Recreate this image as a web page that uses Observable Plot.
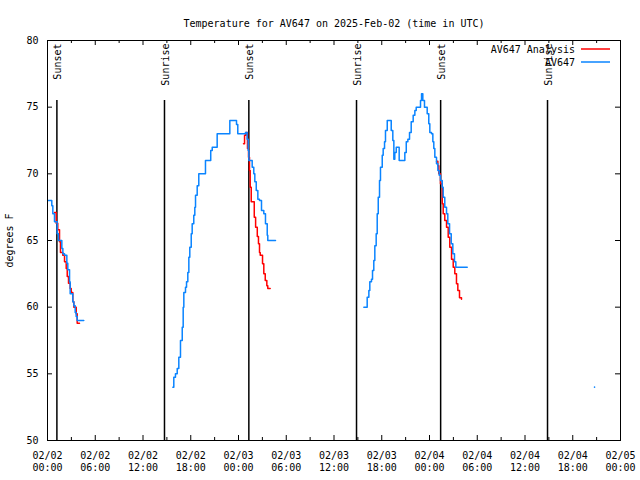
<!DOCTYPE html>
<html><head><meta charset="utf-8">
<script src="https://cdn.jsdelivr.net/npm/d3@7"></script>
<script src="https://cdn.jsdelivr.net/npm/@observablehq/plot@0.6"></script>
<style>html,body{margin:0;padding:0;background:#fff}</style>
</head><body><div id="chart"></div>
<script>
// Time origin: 2025-02-02 00:00 UTC; data times are hours since then
const START = Date.UTC(2025, 1, 2);
const titleText = "Temperature for AV647 on 2025-Feb-02 (time in UTC)";
const yLabel = "degrees F";
const seriesNames = ["AV647 Analysis", "AV647"];
const seriesColors = ["#ff0000", "#0a84ff"];

// AV647 observations [hour, °F], one array per continuous stretch
const obsStretch1 = [[0.1,68.0],[0.54,67.6],[0.67,67.0],[0.88,66.4],[1.21,65.5],[1.38,65.0],[1.80,64.4],[1.93,64.0],[2.14,63.9],[2.43,63.3],[2.55,62.8],[2.77,61.9],[2.85,61.0],[3.18,60.4],[3.31,60.1],[3.48,59.6],[3.60,59.3],[3.73,59.0],[4.56,59.0]];
const obsStretch2 = [[15.75,54.0],[15.87,54.75],[16.08,55.0],[16.30,55.4],[16.50,56.25],[16.71,57.5],[16.93,58.5],[17.05,60.0],[17.13,61.1],[17.34,61.5],[17.47,61.9],[17.63,62.6],[17.76,63.75],[17.88,64.5],[18.06,65.5],[18.18,66.25],[18.38,66.9],[18.51,67.5],[18.60,68.4],[18.81,69.1],[19.01,70.0],[19.85,71.0],[20.51,71.75],[20.70,72.0],[21.32,73.0],[22.91,74.0],[23.75,73.7],[23.91,73.0],[24.88,73.1],[25.09,72.6],[25.22,71.75],[25.30,71.0],[25.72,70.5],[25.92,70.0],[26.05,69.4],[26.23,68.75],[26.43,68.1],[26.64,68.0],[26.89,67.25],[27.18,67.0],[27.39,66.25],[27.61,65.4],[27.68,65.0],[28.65,65.0]];
const obsStretch3 = [[39.75,60.0],[40.17,60.75],[40.38,61.25],[40.50,61.9],[40.71,62.1],[40.84,62.75],[41.00,63.5],[41.13,64.6],[41.30,65.5],[41.43,67.0],[41.56,68.25],[41.72,69.5],[41.84,70.5],[42.06,71.4],[42.18,71.9],[42.35,72.4],[42.47,73.25],[42.69,74.0],[43.19,73.25],[43.39,72.5],[43.52,71.1],[43.64,71.6],[43.82,72.0],[44.19,71.0],[44.90,71.6],[45.08,72.4],[45.28,72.6],[45.49,73.1],[45.70,73.9],[45.95,74.4],[46.16,74.75],[46.33,75.0],[46.87,75.5],[47.00,76.0],[47.16,75.5],[47.37,75.0],[47.71,74.5],[47.91,73.75],[48.04,73.1],[48.25,73.0],[48.42,72.4],[48.54,71.9],[48.67,71.25],[48.88,70.75],[49.05,70.25],[49.22,69.9],[49.38,69.5],[49.60,69.0],[49.72,68.25],[49.92,67.5],[50.14,67.0],[50.30,66.25],[50.52,65.5],[50.73,64.75],[50.93,64.0],[51.14,63.4],[51.31,63.0],[52.74,63.0]];
const obsIsolated = [[68.74,54.0]];

// AV647 Analysis [hour, °F]
const anaStretch1 = [[0.88,67.1],[1.09,66.3],[1.29,65.8],[1.51,64.9],[1.63,64.1],[1.92,63.9],[2.14,63.4],[2.35,62.9],[2.48,62.3],[2.64,61.8],[2.85,61.4],[2.98,61.1],[3.18,60.4],[3.31,60.0],[3.61,59.5],[3.73,58.8],[4.02,58.8]];
const anaStretch2 = [[24.63,72.25],[24.76,72.9],[24.92,73.1],[25.13,71.9],[25.26,71.25],[25.38,70.25],[25.47,69.0],[25.60,67.9],[25.98,66.75],[26.15,66.0],[26.36,65.3],[26.51,64.75],[26.64,64.1],[26.73,63.9],[27.02,63.25],[27.18,62.5],[27.36,62.0],[27.56,61.6],[27.68,61.4],[27.98,61.4]];
const anaStretch3 = [[48.88,70.95],[49.05,70.6],[49.17,70.0],[49.38,69.25],[49.60,67.75],[49.72,67.0],[49.92,66.5],[50.14,66.0],[50.35,65.25],[50.55,64.5],[50.77,63.6],[50.98,63.0],[51.18,62.5],[51.39,61.75],[51.56,61.25],[51.77,60.7],[52.02,60.6]];

// Sun events
const sunHours = [1.18, 14.70, 25.30, 38.83, 49.40, 62.83];
const sunLabels = ["Sunset", "Sunrise", "Sunset", "Sunrise", "Sunset", "Sunrise"];

// Axes
const yTicks = [50, 55, 60, 65, 70, 75, 80];
const xRangeHours = [0, 72];
const xLabelEveryHours = 6;
const xTickEveryHours = 3;

const toDate = h => new Date(START + h * 3600e3);
const rows = stretches => stretches.flatMap((s, i) => s.map(([h, t]) => ({time: toDate(h), temp: t, seg: i})));
const obsRows = rows([obsStretch1, obsStretch2, obsStretch3]);
const anaRows = rows([anaStretch1, anaStretch2, anaStretch3]);
const isoRows = rows([obsIsolated]);
const sunRows = sunHours.map((h, i) => ({time: toDate(h), label: sunLabels[i]}));
const xMajor = d3.range(xRangeHours[0], xRangeHours[1] + 0.01, xLabelEveryHours).map(toDate);
const xMinor = d3.range(xRangeHours[0], xRangeHours[1] + 0.01, xTickEveryHours).filter(h => h % xLabelEveryHours !== 0).map(toDate);
const fmtDay = d3.utcFormat("%m/%d"), fmtTime = d3.utcFormat("%H:%M");

const W = 640, H = 480, ML = 47, MR = 20, MT = 40, MB = 40;
const FW = W - ML - MR, FH = H - MT - MB;
const MAJ = 5, MIN = 3;
const font = "'DejaVu Sans Mono', 'Liberation Mono', monospace";

const svg = Plot.plot({
  width: W, height: H,
  marginLeft: ML, marginRight: MR, marginTop: MT, marginBottom: MB,
  style: {fontFamily: font, fontSize: "10px", background: "#fff", color: "#000"},
  x: {type: "utc", domain: xRangeHours.map(toDate)},
  y: {domain: [yTicks[0], yTicks[yTicks.length - 1]]},
  marks: [
    Plot.axisY({ticks: yTicks, tickSize: 0, tickPadding: 9, fontSize: 10, label: yLabel, labelAnchor: "center", labelOffset: 42, labelArrow: "none"}),
    Plot.axisX({ticks: xMajor, tickSize: 0, tickPadding: 10, fontSize: 10, lineHeight: 1.2, tickFormat: d => fmtDay(d) + "\n" + fmtTime(d), label: null}),
    Plot.tickX(xMajor, {x: d => d, insetTop: FH - MAJ, stroke: "#000"}),
    Plot.tickX(xMinor, {x: d => d, insetTop: FH - MIN, stroke: "#000"}),
    Plot.tickX(xMajor, {x: d => d, insetBottom: FH - MAJ, stroke: "#000"}),
    Plot.tickX(xMinor, {x: d => d, insetBottom: FH - MIN, stroke: "#000"}),
    Plot.tickY(yTicks, {y: d => d, insetRight: FW - MAJ, stroke: "#000"}),
    Plot.tickY(yTicks, {y: d => d, insetLeft: FW - MAJ, stroke: "#000"}),
    Plot.ruleX(sunRows, {x: "time", y1: 50, y2: 75.5, stroke: "#000", strokeWidth: 1.5}),
    Plot.text(sunRows, {x: "time", text: "label", frameAnchor: "top", lineAnchor: "middle", rotate: -90, textAnchor: "end", dx: 1, dy: 3, fontSize: 10}),
    Plot.line(anaRows, {x: "time", y: "temp", z: "seg", stroke: seriesColors[0], strokeWidth: 1.5, curve: "step-after"}),
    Plot.line(obsRows, {x: "time", y: "temp", z: "seg", stroke: seriesColors[1], strokeWidth: 1.5, curve: "step-after"}),
    Plot.dot(isoRows, {x: "time", y: "temp", r: 0.8, fill: seriesColors[1], stroke: null}),
    Plot.frame({stroke: "#000"}),
    Plot.text([titleText], {frameAnchor: "top", dy: -21, fontSize: 10})
  ]
});

// Legend (top-right inside the frame)
const s = d3.select(svg);
const lg = s.append("g").attr("font-family", font).attr("font-size", 10);
seriesNames.forEach((name, i) => {
  const y = 50 + i * 13;
  lg.append("text").attr("x", 575).attr("y", y).attr("text-anchor", "end").attr("dominant-baseline", "middle").text(name);
  lg.append("line").attr("x1", 581).attr("x2", 610).attr("y1", y - 1).attr("y2", y - 1).attr("stroke", seriesColors[i]).attr("stroke-width", 1.5);
});
document.getElementById("chart").appendChild(svg);
</script>
</body></html>
